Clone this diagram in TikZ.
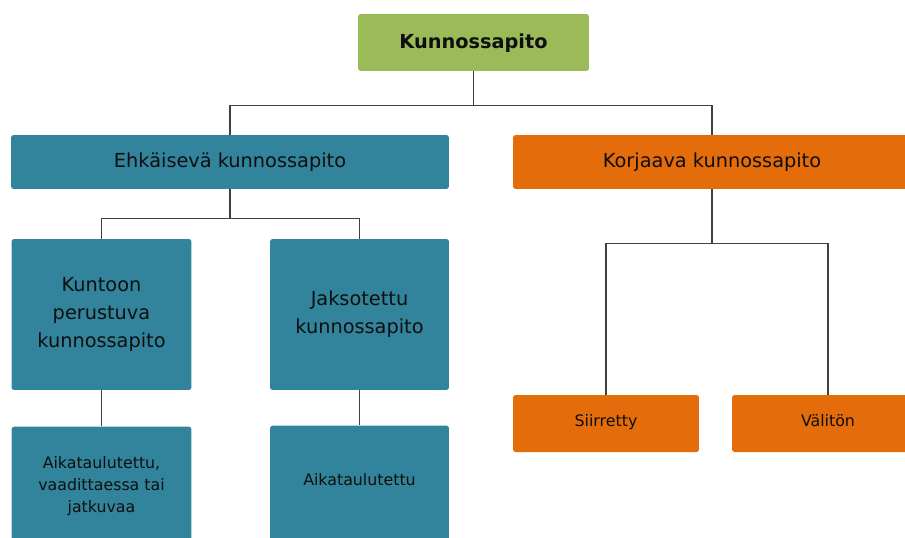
\documentclass[tikz,border=0pt]{standalone}
\usepackage{fontspec}
\setmainfont{DejaVu Sans}
\usepackage{xcolor}
\usepackage{tikz}
\usetikzlibrary{positioning}
\definecolor{kpgreen}{RGB}{155,187,89}
\definecolor{kpteal}{RGB}{49,132,155}
\definecolor{kporange}{RGB}{228,108,10}
\definecolor{kpline}{RGB}{64,64,64}
\definecolor{kptext}{RGB}{15,15,15}
\tikzset{
  kpbox/.style={
    rectangle, rounded corners=1.5pt,
    inner sep=2pt, align=center, text=kptext
  },
  kproot/.style={
    kpbox, fill=kpgreen,
    minimum width=4.62cm, minimum height=1.14cm,
    text height=1.6ex, text depth=0.4ex,
    font=\fontsize{11}{13}\selectfont\bfseries
  },
  kphead/.style={
    kpbox, minimum height=1.08cm,
    text height=1.6ex, text depth=0.4ex,
    font=\fontsize{11}{13}\selectfont
  },
  kptype/.style={
    kpbox, fill=kpteal,
    minimum width=3.6cm, minimum height=3.02cm,
    font=\fontsize{11}{16}\selectfont
  },
  kpleaf/.style={
    kpbox, fill=kpteal,
    minimum width=3.6cm, minimum height=2.36cm,
    font=\fontsize{9}{12.5}\selectfont
  },
  kpsmall/.style={
    kpbox, fill=kporange,
    minimum height=1.14cm,
    text height=1.6ex, text depth=0.2cm,
    font=\fontsize{9}{11}\selectfont
  },
  kplink/.style={draw=kpline, line width=0.9pt}
}
\begin{document}
\begin{tikzpicture}[x=0.02cm, y=-0.02cm]
\clip (0,0) rectangle (905,537);

% ---- root ----
\node[kproot] (Root) at (473.5,42.5) {Kunnossapito};

% ---- main branches ----
\node[kphead, fill=kpteal, minimum width=8.76cm] (Ehk) at (230,162) {Ehkäisevä kunnossapito};
\node[kphead, fill=kporange, minimum width=7.96cm] (Korj) at (712,162) {Korjaava kunnossapito};

% ---- preventive ----
\node[kptype] (Kunt) at (101.5,314.5) {Kuntoon\\ perustuva\\ kunnossapito};
\node[kptype, minimum width=3.58cm] (Jaks) at (359.5,314.5) {Jaksotettu\\ kunnossapito};
\node[kpleaf, below=0.72cm of Kunt] (AikaA) {Aikataulutettu,\\ vaadittaessa tai\\ jatkuvaa};
\node[kpleaf, minimum width=3.58cm, text depth=0.2cm, below=0.70cm of Jaks] (AikaB) {Aikataulutettu};

% ---- corrective ----
\node[kpsmall, minimum width=3.72cm] (Siir) at (606,423.5) {Siirretty};
\node[kpsmall, minimum width=3.84cm] (Valit) at (828,423.5) {Välitön};

% ---- links ----
\draw[kplink] (Root.south) -- ++(0,34) -| (Ehk.north);
\draw[kplink] (Root.south) -- ++(0,34) -| (Korj.north);
\draw[kplink] (Ehk.south) -- ++(0,29) -| (Kunt.north);
\draw[kplink] (Ehk.south) -- ++(0,29) -| (Jaks.north);
\draw[kplink] (Korj.south) -- ++(0,54) -| (Siir.north);
\draw[kplink] (Korj.south) -- ++(0,54) -| (Valit.north);
\draw[kplink] (Kunt.south) -- (AikaA.north);
\draw[kplink] (Jaks.south) -- (AikaB.north);

\end{tikzpicture}
\end{document}
